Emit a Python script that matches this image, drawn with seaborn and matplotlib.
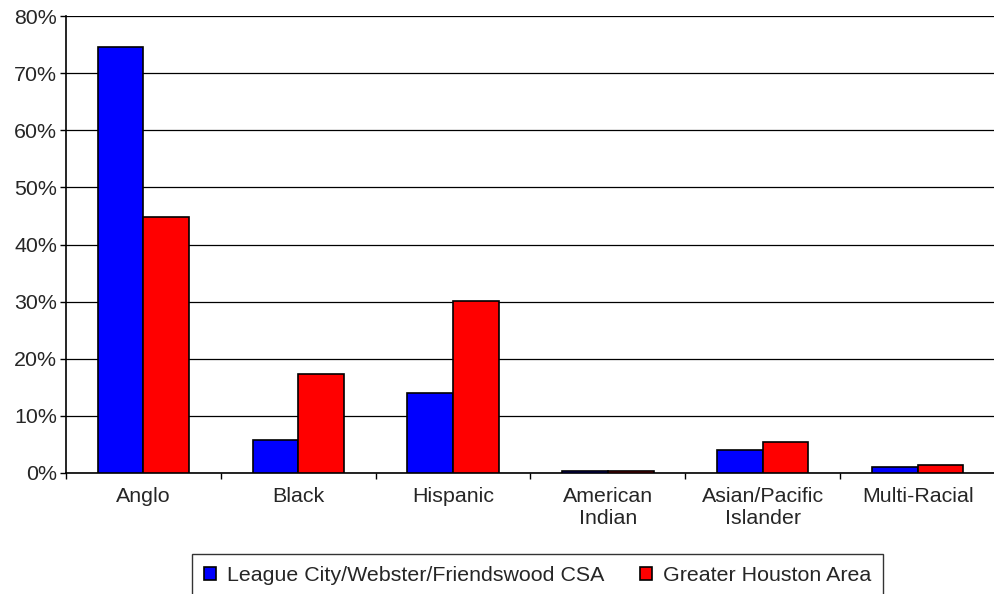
import pandas as pd
import numpy as np
import matplotlib
matplotlib.use("Agg")
import matplotlib.pyplot as plt
from matplotlib.ticker import FixedLocator, PercentFormatter
import seaborn as sns

# Data (percent)
categories = ["Anglo", "Black", "Hispanic", "American\nIndian",
              "Asian/Pacific\nIslander", "Multi-Racial"]
league_city = [74.6, 5.7, 14.0, 0.4, 4.0, 1.0]
houston = [44.8, 17.3, 30.1, 0.4, 5.4, 1.35]
series_names = ["League City/Webster/Friendswood CSA", "Greater Houston Area"]
colors = ["#0000FF", "#FF0000"]

df = pd.DataFrame({
    "category": categories * 2,
    "value": league_city + houston,
    "series": [series_names[0]] * len(categories) + [series_names[1]] * len(categories),
})

sns.set_style("white")
plt.rcParams["font.family"] = ["Liberation Sans", "DejaVu Sans"]
FS = 15.4

fig = plt.figure(figsize=(9.95, 5.94), dpi=100)
ax = fig.add_axes([66 / 995, 121 / 594, 929 / 995, 457 / 594])

sns.barplot(data=df, x="category", y="value", hue="series", palette=colors,
            width=0.59, gap=0, edgecolor="black", linewidth=1.2,
            saturation=1, ax=ax, zorder=3)

ax.set_ylim(0, 80)
ax.set_xlim(-0.5, len(categories) - 0.5)
ax.set_yticks(np.arange(0, 81, 10))
ax.yaxis.set_major_formatter(PercentFormatter(decimals=0))
ax.yaxis.grid(True, color="black", linewidth=0.9)
ax.set_axisbelow(True)

# tick marks between categories, labels centered
ax.xaxis.set_minor_locator(FixedLocator(np.arange(-0.5, len(categories), 1)))
ax.tick_params(axis="x", which="major", length=0, labelsize=FS, pad=10)
ax.tick_params(axis="x", which="minor", length=4.5, width=1, color="black", direction="out", bottom=True)
ax.tick_params(axis="y", length=4.5, width=1, color="black", direction="out", left=True, labelsize=FS, pad=2)

for s in ["top", "right"]:
    ax.spines[s].set_visible(False)
for s in ["left", "bottom"]:
    ax.spines[s].set_color("black")
    ax.spines[s].set_linewidth(1.2)

ax.set_xlabel("")
ax.set_ylabel("")

handles, labels = ax.get_legend_handles_labels()
ax.legend_.remove()
leg = fig.legend(handles, labels, loc="upper center", bbox_to_anchor=(537.5 / 995, 1 - 554 / 594),
                 ncol=2, frameon=True, fancybox=False, fontsize=FS,
                 handlelength=0.56, handleheight=0.56, handletextpad=0.5,
                 columnspacing=1.7, borderpad=0.55, borderaxespad=0)
leg.get_frame().set_edgecolor("black")
leg.get_frame().set_linewidth(1.0)

fig.savefig("out.png", dpi=100)
